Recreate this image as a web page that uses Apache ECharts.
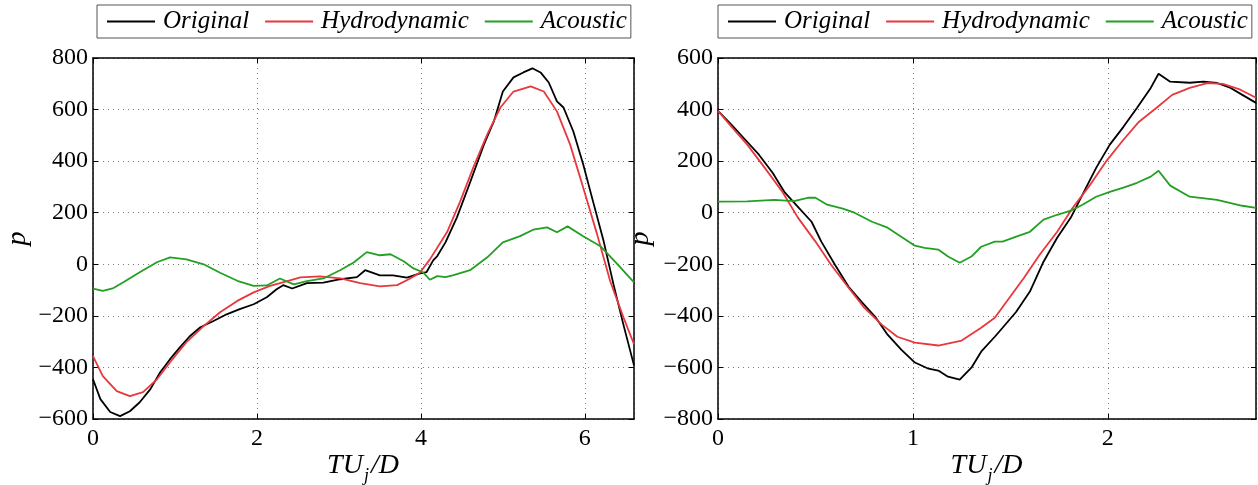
<!DOCTYPE html>
<html>
<head>
<meta charset="utf-8">
<script src="https://cdn.jsdelivr.net/npm/echarts@6/dist/echarts.min.js"></script>
<style>
html,body{margin:0;padding:0;background:#fff;}
#c{width:1258px;height:485px;}
</style>
</head>
<body>
<div id="c"></div>
<script>
// ---- Data ----
const seriesNames = ['Original', 'Hydrodynamic', 'Acoustic'];
const leftXTicks = [0, 2, 4, 6];
const rightXTicks = [0, 1, 2];

// Left panel
const leftOriginalX = [0,0.09,0.21,0.33,0.45,0.57,0.70,0.82,0.94,1.06,1.18,1.31,1.47,1.63,1.79,1.96,2.12,2.24,2.32,2.43,2.61,2.81,3.02,3.22,3.32,3.50,3.66,3.83,3.99,4.07,4.15,4.20,4.30,4.44,4.60,4.77,4.89,5.00,5.13,5.25,5.36,5.46,5.56,5.66,5.74,5.86,5.98,6.10,6.23,6.35,6.47,6.60];
const leftOriginalY = [-446,-523,-573,-589,-570,-535,-484,-419,-368,-322,-279,-244,-220,-194,-174,-155,-128,-97,-81,-94,-73,-71,-58,-50,-23,-43,-43,-52,-35,-30,15,32,85,182,317,465,554,670,725,744,760,744,705,632,608,515,388,244,89,-78,-233,-392];

const leftHydroX = [0,0.12,0.29,0.45,0.61,0.78,0.94,1.14,1.35,1.55,1.76,1.96,2.16,2.37,2.53,2.77,3.02,3.26,3.50,3.71,3.87,3.99,4.11,4.32,4.48,4.64,4.81,4.97,5.13,5.34,5.50,5.66,5.82,5.98,6.15,6.31,6.47,6.60];
const leftHydroY = [-356,-434,-492,-511,-496,-446,-380,-302,-240,-186,-142,-109,-84,-65,-51,-47,-55,-73,-86,-81,-55,-32,19,125,244,376,504,608,670,690,670,593,465,298,116,-66,-205,-310];

const leftAcousticX = [0,0.12,0.25,0.37,0.57,0.78,0.94,1.14,1.35,1.55,1.76,1.96,2.12,2.28,2.45,2.61,2.81,3.02,3.18,3.34,3.50,3.63,3.79,3.91,4.03,4.11,4.20,4.30,4.40,4.60,4.81,5.00,5.21,5.37,5.54,5.66,5.79,5.98,6.19,6.40,6.60];
const leftAcousticY = [-94,-103,-92,-70,-31,8,27,19,0,-33,-64,-84,-82,-55,-78,-65,-55,-22,7,47,35,39,12,-16,-32,-60,-46,-50,-42,-23,27,85,109,134,143,124,147,109,70,0,-70];

// Right panel
const rightOriginalX = [0,0.07,0.14,0.21,0.28,0.34,0.41,0.48,0.53,0.60,0.67,0.74,0.81,0.87,0.94,1.01,1.08,1.13,1.18,1.24,1.30,1.35,1.42,1.46,1.53,1.60,1.67,1.74,1.81,1.87,1.94,2.01,2.08,2.15,2.22,2.26,2.32,2.42,2.49,2.56,2.63,2.69,2.76];
const rightOriginalY = [395,341,283,225,155,81,23,-35,-112,-202,-287,-349,-407,-473,-531,-581,-605,-612,-636,-647,-601,-539,-481,-446,-384,-306,-190,-97,-19,70,174,264,333,407,484,539,508,504,508,503,484,457,426];

const rightHydroX = [0,0.07,0.15,0.24,0.33,0.41,0.50,0.58,0.67,0.75,0.84,0.92,1.01,1.13,1.25,1.35,1.42,1.48,1.57,1.65,1.74,1.82,1.91,1.99,2.08,2.16,2.25,2.33,2.42,2.51,2.59,2.68,2.76];
const rightHydroY = [395,333,264,174,81,-19,-112,-202,-291,-368,-434,-481,-504,-515,-496,-446,-407,-345,-252,-163,-74,19,109,198,283,353,407,457,484,503,500,477,446];

const rightAcousticX = [0,0.15,0.29,0.39,0.46,0.50,0.56,0.64,0.70,0.79,0.87,0.94,1.01,1.06,1.13,1.18,1.24,1.30,1.35,1.42,1.46,1.53,1.60,1.67,1.74,1.81,1.87,1.94,2.01,2.08,2.15,2.22,2.26,2.32,2.42,2.56,2.69,2.76];
const rightAcousticY = [43,44,50,45,58,58,31,16,0,-35,-58,-93,-128,-136,-143,-170,-194,-170,-132,-112,-112,-93,-74,-27,-8,8,31,62,81,97,116,140,163,105,62,50,27,19];

// ---- Build options ----
function pairs(xs, ys){ return xs.map((x,i)=>[x, ys[i]]); }
const colors = ['#000000', '#e8383d', '#23a023'];
const serif = '"Liberation Serif", "DejaVu Serif", serif';
const gridColor = '#7a7a7a';

function xAxisBottom(gi, max, interval){
  return {
    type:'value', gridIndex:gi, min:0, max:max, interval:interval, position:'bottom',
    axisLine:{show:true, onZero:false, lineStyle:{color:'#000', width:1.5}},
    axisTick:{show:true, inside:true, length:5, lineStyle:{color:'#000', width:1}},
    axisLabel:{show:true, showMaxLabel:false, color:'#000', fontSize:24, fontFamily:serif, margin:8},
    splitLine:{show:true, lineStyle:{color:gridColor, type:[1,4], width:1}},
    name:'{i|TU}{s|j}{i|/D}', nameLocation:'middle', nameGap:33, nameMoveOverlap:false,
    nameTextStyle:{rich:{
      i:{fontSize:28, fontStyle:'italic', fontFamily:serif, color:'#000', verticalAlign:'bottom', padding:[0,1,5,0]},
      s:{fontSize:18, fontStyle:'italic', fontFamily:serif, color:'#000', verticalAlign:'bottom', padding:[0,2,0,0]}
    }}
  };
}
function xAxisTop(gi, max, interval){
  return {
    type:'value', gridIndex:gi, min:0, max:max, interval:interval, position:'top',
    axisLine:{show:true, onZero:false, lineStyle:{color:'#000', width:1.5}},
    axisTick:{show:true, inside:true, length:5, lineStyle:{color:'#000', width:1}},
    axisLabel:{show:false}, splitLine:{show:false}
  };
}
function yAxisLeft(gi, min, max, gap){
  return {
    type:'value', gridIndex:gi, min:min, max:max, interval:200, position:'left',
    axisLine:{show:true, onZero:false, lineStyle:{color:'#000', width:1.5}},
    axisTick:{show:true, inside:true, length:5, lineStyle:{color:'#000', width:1}},
    axisLabel:{show:true, color:'#000', fontSize:24, fontFamily:serif, margin:5,
      formatter:(v)=> String(v).replace('-', '\u2212')},
    splitLine:{show:true, lineStyle:{color:gridColor, type:[1,4], width:1}},
    name:'p', nameLocation:'middle', nameGap:gap, nameRotate:90,
    nameTextStyle:{fontSize:28, fontStyle:'italic', fontFamily:serif, color:'#000'}
  };
}
function yAxisRight(gi, min, max){
  return {
    type:'value', gridIndex:gi, min:min, max:max, interval:200, position:'right',
    axisLine:{show:true, onZero:false, lineStyle:{color:'#000', width:1.5}},
    axisTick:{show:true, inside:true, length:5, lineStyle:{color:'#000', width:1}},
    axisLabel:{show:false}, splitLine:{show:false}
  };
}
function legend(left){
  return {
    left:left, top:5, orient:'horizontal',
    data:seriesNames,
    icon:'rect',
    itemWidth:48, itemHeight:2, itemGap:16,
    padding:[4,4,4,10],
    borderColor:'#555', borderWidth:1,
    textStyle:{fontSize:25, fontStyle:'italic', fontFamily:serif, color:'#000', padding:[0,0,0,3]},
    selectedMode:false
  };
}
function line(name, data, xi, yi, ci){
  return {
    type:'line', name:name, data:data, xAxisIndex:xi, yAxisIndex:yi,
    symbol:'none', smooth:false, animation:false,
    lineStyle:{color:colors[ci], width:1.8}, itemStyle:{color:colors[ci]}
  };
}

const option = {
  backgroundColor:'#fff',
  animation:false,
  legend:[legend(97), legend(718)],
  grid:[
    {left:93, right:624, top:58, bottom:66, show:false, containLabel:false, outerBoundsMode:'none'},
    {left:718, right:2, top:58, bottom:66, show:false, containLabel:false, outerBoundsMode:'none'}
  ],
  xAxis:[xAxisBottom(0, 6.6, 2), xAxisTop(0, 6.6, 2), xAxisBottom(1, 2.76, 1), xAxisTop(1, 2.76, 1)],
  yAxis:[yAxisLeft(0, -600, 800, 61), yAxisRight(0, -600, 800), yAxisLeft(1, -800, 600, 63), yAxisRight(1, -800, 600)],
  series:[
    line('Original', pairs(leftOriginalX, leftOriginalY), 0, 0, 0),
    line('Hydrodynamic', pairs(leftHydroX, leftHydroY), 0, 0, 1),
    line('Acoustic', pairs(leftAcousticX, leftAcousticY), 0, 0, 2),
    line('Original', pairs(rightOriginalX, rightOriginalY), 2, 2, 0),
    line('Hydrodynamic', pairs(rightHydroX, rightHydroY), 2, 2, 1),
    line('Acoustic', pairs(rightAcousticX, rightAcousticY), 2, 2, 2)
  ]
};
const chart = echarts.init(document.getElementById('c'), null, {renderer:'canvas'});
chart.setOption(option);
</script>
</body>
</html>
